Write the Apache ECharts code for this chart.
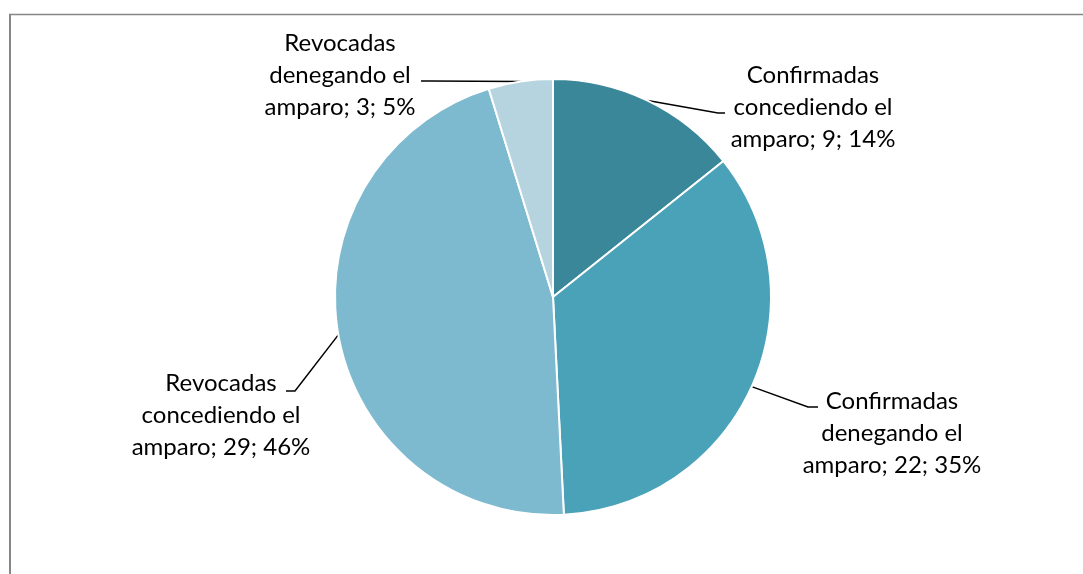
<!DOCTYPE html>
<html>
<head>
<meta charset="utf-8">
<script src="https://cdn.jsdelivr.net/npm/echarts@6/dist/echarts.min.js"></script>
<style>
  html, body { margin: 0; padding: 0; background: #ffffff; }
  #chart { width: 1083px; height: 574px; }
</style>
</head>
<body>
<div id="chart"></div>
<script>
// Resoluciones de amparo: confirmadas / revocadas
const categories = [
  'Confirmadas concediendo el amparo',
  'Confirmadas denegando el amparo',
  'Revocadas concediendo el amparo',
  'Revocadas denegando el amparo'
];
// Label text is split over three lines
const labelLines = [
  ['Confirmadas', 'concediendo el', 'amparo'],
  ['Confirmadas', 'denegando el', 'amparo'],
  ['Revocadas', 'concediendo el', 'amparo'],
  ['Revocadas', 'denegando el', 'amparo']
];
const values = [9, 22, 29, 3];
const colors = ['#3a8799', '#4aa2b9', '#7db9cf', '#b5d4df'];

// Where each label block sits (centre x, middle y) and where its leader bends
const labelPlacement = [
  { x: 813, y: 107, bend: [718, 113], end: [725, 113] },
  { x: 892, y: 433, bend: [808, 407], end: [818, 407] },
  { x: 221, y: 415, bend: [295, 391], end: [286, 391] },
  { x: 340, y: 75,  bend: [430, 81],  end: [421, 81] }
];

const total = values.reduce((a, b) => a + b, 0);

const chart = echarts.init(document.getElementById('chart'), null, { renderer: 'canvas' });

chart.setOption({
  backgroundColor: '#ffffff',
  animation: false,
  graphic: [
    {
      type: 'line',
      shape: { x1: 9, y1: 14.5, x2: 1083, y2: 14.5 },
      style: { stroke: '#878787', lineWidth: 1.5 }
    },
    {
      type: 'line',
      shape: { x1: 10, y1: 14, x2: 10, y2: 574 },
      style: { stroke: '#878787', lineWidth: 2 }
    }
  ],
  series: [{
    type: 'pie',
    center: [553, 297],
    radius: 218,
    startAngle: 90,
    clockwise: true,
    avoidLabelOverlap: false,
    data: categories.map((name, i) => ({
      name: name,
      value: values[i],
      itemStyle: { color: colors[i] }
    })),
    itemStyle: { borderColor: '#ffffff', borderWidth: 2 },
    label: {
      show: true,
      position: 'outside',
      fontFamily: 'Lato',
      fontSize: 24,
      lineHeight: 32,
      color: '#000000',
      align: 'center',
      formatter: function (p) {
        const pct = Math.round(p.value / total * 100);
        const parts = labelLines[p.dataIndex];
        return parts[0] + '\n' + parts[1] + '\n' + parts[2] + '; ' + p.value + '; ' + pct + '%';
      }
    },
    labelLine: {
      show: true,
      lineStyle: { color: '#000000', width: 1.5 }
    },
    labelLayout: function (params) {
      const pl = labelPlacement[params.dataIndex];
      const start = params.labelLinePoints ? params.labelLinePoints[0] : pl.bend;
      return {
        x: pl.x,
        y: pl.y,
        align: 'center',
        verticalAlign: 'middle',
        labelLinePoints: [start, pl.bend, pl.end]
      };
    },
    emphasis: { disabled: true }
  }]
});
</script>
</body>
</html>
